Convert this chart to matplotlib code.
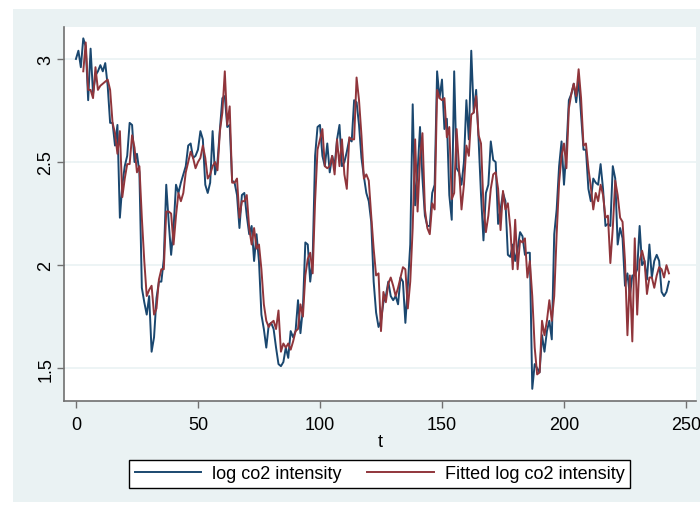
import matplotlib
matplotlib.use("Agg")
import matplotlib.pyplot as plt
from matplotlib.patches import Rectangle

plt.rcParams['font.family'] = ['Liberation Sans', 'DejaVu Sans']

# time index and series
t = list(range(244))

log_co2 = [
    3.00, 3.04, 2.96, 3.10, 3.06, 2.80, 3.05, 2.83, 2.92, 2.94,
    2.97, 2.94, 2.98, 2.87, 2.69, 2.69, 2.58, 2.68, 2.23, 2.39,
    2.48, 2.53, 2.69, 2.68, 2.50, 2.54, 2.45, 1.89, 1.82, 1.76,
    1.85, 1.58, 1.65, 1.84, 1.92, 1.92, 2.03, 2.39, 2.21, 2.05,
    2.18, 2.39, 2.35, 2.40, 2.44, 2.48, 2.58, 2.59, 2.52, 2.53,
    2.56, 2.65, 2.61, 2.39, 2.35, 2.40, 2.65, 2.44, 2.50, 2.66,
    2.81, 2.82, 2.67, 2.68, 2.41, 2.40, 2.34, 2.18, 2.34, 2.35,
    2.24, 2.15, 2.19, 2.02, 2.15, 2.02, 1.76, 1.69, 1.60, 1.71,
    1.72, 1.69, 1.60, 1.52, 1.51, 1.53, 1.60, 1.55, 1.68, 1.65,
    1.68, 1.83, 1.67, 1.79, 2.11, 2.10, 1.92, 2.03, 2.53, 2.67,
    2.68, 2.53, 2.48, 2.59, 2.45, 2.53, 2.48, 2.61, 2.68, 2.48,
    2.50, 2.55, 2.61, 2.60, 2.80, 2.79, 2.68, 2.52, 2.43, 2.35,
    2.31, 2.21, 1.92, 1.77, 1.70, 1.73, 1.82, 1.85, 1.92, 1.85,
    1.83, 1.85, 1.81, 1.94, 1.92, 1.72, 1.90, 2.10, 2.78, 2.29,
    2.45, 2.67, 2.42, 2.24, 2.19, 2.19, 2.35, 2.39, 2.94, 2.81,
    2.90, 2.66, 2.71, 2.34, 2.22, 2.94, 2.47, 2.45, 2.39, 2.50,
    2.80, 2.61, 3.04, 2.74, 2.85, 2.61, 2.34, 2.12, 2.35, 2.39,
    2.60, 2.51, 2.50, 2.20, 2.27, 2.35, 2.31, 2.05, 2.04, 2.10,
    2.02, 2.08, 2.16, 2.14, 2.05, 2.06, 2.06, 1.40, 1.52, 1.50,
    1.48, 1.66, 1.58, 1.68, 1.73, 1.64, 2.15, 2.27, 2.48, 2.60,
    2.39, 2.56, 2.80, 2.83, 2.88, 2.79, 2.90, 2.73, 2.56, 2.56,
    2.37, 2.31, 2.42, 2.40, 2.39, 2.49, 2.37, 2.19, 2.20, 2.19,
    2.48, 2.42, 2.10, 2.18, 2.13, 1.90, 1.96, 1.85, 1.95, 1.95,
    1.98, 2.19, 2.00, 2.02, 1.93, 2.10, 1.94, 2.02, 2.05, 2.02,
    1.87, 1.85, 1.87, 1.92,
]

fitted = [
    None, None, None, 2.94, 3.08, 2.85, 2.85, 2.81, 2.96, 2.85,
    2.87, 2.88, 2.89, 2.90, 2.85, 2.69, 2.64, 2.54, 2.65, 2.33,
    2.42, 2.49, 2.49, 2.63, 2.57, 2.45, 2.48, 2.23, 2.02, 1.85,
    1.88, 1.90, 1.76, 1.79, 1.93, 1.98, 1.98, 2.26, 2.26, 2.25,
    2.10, 2.24, 2.35, 2.31, 2.35, 2.45, 2.50, 2.55, 2.52, 2.47,
    2.50, 2.52, 2.58, 2.52, 2.42, 2.44, 2.48, 2.50, 2.46, 2.65,
    2.74, 2.94, 2.68, 2.77, 2.40, 2.40, 2.42, 2.23, 2.31, 2.31,
    2.34, 2.18, 2.10, 2.18, 2.08, 2.10, 1.98, 1.81, 1.73, 1.70,
    1.72, 1.73, 1.69, 1.78, 1.58, 1.62, 1.60, 1.62, 1.59, 1.63,
    1.68, 1.69, 1.81, 1.75, 1.95, 2.03, 2.06, 1.96, 2.31, 2.56,
    2.61, 2.66, 2.48, 2.47, 2.48, 2.53, 2.44, 2.61, 2.48, 2.61,
    2.44, 2.37, 2.62, 2.61, 2.61, 2.91, 2.80, 2.63, 2.42, 2.44,
    2.41, 2.24, 2.08, 1.95, 1.96, 1.68, 1.87, 1.82, 1.91, 1.94,
    1.90, 1.85, 1.89, 1.94, 1.99, 1.98, 1.79, 1.92, 2.18, 2.61,
    2.26, 2.52, 2.64, 2.27, 2.18, 2.15, 2.30, 2.27, 2.85, 2.81,
    2.80, 2.81, 2.62, 2.67, 2.32, 2.35, 2.66, 2.47, 2.27, 2.39,
    2.58, 2.53, 2.73, 2.74, 2.82, 2.63, 2.59, 2.29, 2.16, 2.24,
    2.37, 2.44, 2.45, 2.37, 2.17, 2.36, 2.27, 2.30, 2.18, 1.98,
    2.22, 1.98, 2.12, 2.11, 2.13, 1.94, 2.02, 1.85, 1.60, 1.47,
    1.48, 1.73, 1.66, 1.73, 1.83, 1.73, 1.85, 2.15, 2.40, 2.53,
    2.59, 2.47, 2.76, 2.83, 2.88, 2.82, 2.95, 2.81, 2.58, 2.59,
    2.47, 2.38, 2.27, 2.35, 2.31, 2.39, 2.34, 2.23, 2.24, 2.01,
    2.18, 2.41, 2.34, 2.23, 2.21, 2.02, 1.66, 1.95, 1.63, 2.13,
    1.76, 2.02, 2.07, 2.02, 1.86, 1.94, 1.94, 1.89, 1.95, 1.99,
    1.98, 1.94, 2.00, 1.96,
]

yticks = [1.5, 2, 2.5, 3]
ytick_labels = ["1.5", "2", "2.5", "3"]
xticks = [0, 50, 100, 150, 200, 250]

fitted_nan = [float('nan') if v is None else v for v in fitted]

W, H = 700, 506
fig = plt.figure(figsize=(7, 5.06), dpi=100, facecolor='white')
# graph region (light blue-grey)
fig.patches.append(Rectangle((13 / W, 1 - 503 / H), (W - 13) / W, (503 - 10) / H,
                             transform=fig.transFigure, facecolor='#EAF2F3',
                             edgecolor='none', zorder=-10))

ax = fig.add_axes([64 / W, 1 - 402 / H, (696 - 64) / W, (402 - 28) / H])
ax.set_facecolor('white')

ax.plot(t, log_co2, color='#1A476F', lw=1.4, label='log co2 intensity', zorder=3)
ax.plot(t, fitted_nan, color='#90353B', lw=1.4, label='Fitted log co2 intensity', zorder=3)

ax.set_xlim(-4.9, 254.1)
ax.set_ylim(1.341, 3.155)
ax.set_xticks(xticks)
ax.set_yticks(yticks)
ax.set_yticklabels(ytick_labels, rotation=90, va='center')
for y in yticks:
    ax.axhline(y, color='#EAF2F3', lw=1.2, zorder=1)

for s in ['top', 'right']:
    ax.spines[s].set_visible(False)
for s in ['left', 'bottom']:
    ax.spines[s].set_color('#707070')
    ax.spines[s].set_linewidth(1.2)
ax.tick_params(axis='both', direction='out', length=5, width=1, color='#707070',
               labelsize=13, labelcolor='black')
ax.tick_params(axis='y', pad=2)
ax.tick_params(axis='x', pad=6)
ax.set_xlabel('t', fontsize=13, labelpad=0)

fig.legend(loc='center', bbox_to_anchor=(379.5 / W, 1 - 475 / H), ncol=2,
           fontsize=13, frameon=True, fancybox=False, edgecolor='black',
           framealpha=1, handlelength=3.7, handletextpad=0.6, columnspacing=1.4,
           borderpad=0.3)

fig.savefig('out.png', dpi=100, facecolor=fig.get_facecolor())
